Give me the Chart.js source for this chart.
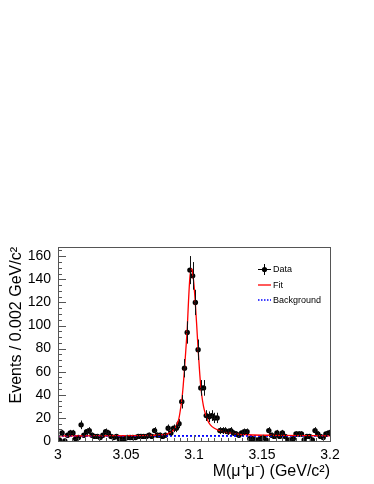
<!DOCTYPE html>
<html>
<head>
<meta charset="utf-8">
<script src="https://cdn.jsdelivr.net/npm/chart.js@4.4.1/dist/chart.umd.min.js"></script>
<style>
html,body{margin:0;padding:0;background:#fff;}
#wrap{width:374px;height:484px;position:relative;}
</style>
</head>
<body>
<div id="wrap"><canvas id="c" width="374" height="484"></canvas></div>
<script>
// ---- data ----
const binStart = 3.0;
const binWidth = 0.002;
const counts = [1,7,0,5,7,7,2,3,14,5,
                8,9,5,4,4,3,5,8,7,4,
                3,4,2,2,2,3,3,3,3,4,
                4,4,4,5,4,9,5,5,4,5,
                11,7,11,11,15,34,63,94,148,143,
                120,79,46,46,22,21,22,20,20,9,
                9,9,8,9,7,6,5,7,8,8,
                2,2,1,1,2,3,1,9,5,4,
                7,4,7,4,1,1,2,6,6,6,
                1,4,4,1,9,6,4,3,6,7];
const fitX = [3.000,3.060,3.075,3.080,3.083,3.086,3.088,3.089,3.090,3.091,3.092,3.093,3.094,3.095,3.096,3.097,3.098,3.099,3.100,3.101,3.102,3.103,3.104,3.105,3.106,3.107,3.108,3.110,3.112,3.115,3.120,3.130,3.140,3.160,3.200];
const fitY = [4.4,4.6,5.2,6.0,7.5,11,16,20,27,35,47,62,79,97,122,142,149,146,135,119,100,80,62,47,37,30,25,18,14,11,8.5,6.2,5.4,4.9,4.5];
const bkgX = [3.000,3.200];
const bkgY = [4.4,4.4];
const xTicks = [3.0,3.05,3.1,3.15,3.2];
const xTickLabels = ["3","3.05","3.1","3.15","3.2"];
const yTicks = [0,20,40,60,80,100,120,140,160];
const seriesNames = ["Data","Fit","Background"];

const dataPts = counts.map((n,i)=>({x: binStart + binWidth*(i+0.5), y: n}));
const fitPts = fitX.map((x,i)=>({x:x,y:fitY[i]}));
const bkgPts = bkgX.map((x,i)=>({x:x,y:bkgY[i]}));

const FONT = "'Liberation Sans', Arial, Helvetica, sans-serif";

const rootPlugin = {
  id:'rootStyle',
  afterDatasetsDraw(chart){
    const ctx = chart.ctx, xs = chart.scales.x, ys = chart.scales.y;
    ctx.save();
    ctx.strokeStyle = '#111'; ctx.lineWidth = 1;
    ctx.beginPath();
    counts.forEach((n,i)=>{
      const xc = binStart + binWidth*(i+0.5);
      const px = xs.getPixelForValue(xc);
      const e = Math.sqrt(n);
      const y1 = ys.getPixelForValue(Math.max(0,n-e)), y2 = ys.getPixelForValue(n+e);
      ctx.moveTo(Math.round(px)+0.5, y1); ctx.lineTo(Math.round(px)+0.5, y2);
      const py = Math.round(ys.getPixelForValue(n))+0.5;
      ctx.moveTo(xs.getPixelForValue(xc-binWidth/2), py); ctx.lineTo(xs.getPixelForValue(xc+binWidth/2), py);
    });
    ctx.stroke();
    ctx.restore();
  },
  afterDraw(chart){
    const ctx = chart.ctx, xs = chart.scales.x, ys = chart.scales.y, a = chart.chartArea;
    ctx.save();
    ctx.strokeStyle = '#555'; ctx.lineWidth = 1;
    ctx.strokeRect(Math.round(a.left)+0.5, Math.round(a.top)+0.5, Math.round(a.right-a.left), Math.round(a.bottom-a.top));
    ctx.beginPath();
    for(let v=0; v<=ys.max+1e-9; v+=5){
      const py = Math.round(ys.getPixelForValue(v))+0.5;
      const len = (v%20===0)?8:4;
      ctx.moveTo(a.left, py); ctx.lineTo(a.left+len, py);
    }
    for(let k=0; k<=40; k++){
      const v = 3.0 + k*0.005;
      const px = Math.round(xs.getPixelForValue(v))+0.5;
      const len = (k%10===0)?6:3;
      ctx.moveTo(px, a.bottom); ctx.lineTo(px, a.bottom-len);
    }
    ctx.stroke();
    // legend
    const lx = 258, tx = 273;
    const rows = [269, 285, 300];
    ctx.font = "9px " + FONT; ctx.fillStyle = '#000'; ctx.textBaseline='middle'; ctx.textAlign='left';
    ctx.strokeStyle='#000'; ctx.lineWidth=1;
    ctx.beginPath(); ctx.moveTo(lx, rows[0]+0.5); ctx.lineTo(lx+13, rows[0]+0.5);
    ctx.moveTo(lx+6.5, rows[0]-5); ctx.lineTo(lx+6.5, rows[0]+6); ctx.stroke();
    ctx.beginPath(); ctx.arc(lx+6.5, rows[0]+0.5, 2.6, 0, Math.PI*2); ctx.fill();
    ctx.fillText(seriesNames[0], tx, rows[0]+1);
    ctx.strokeStyle='#ff0000'; ctx.lineWidth=1.3;
    ctx.beginPath(); ctx.moveTo(lx, rows[1]); ctx.lineTo(lx+13, rows[1]); ctx.stroke();
    ctx.fillText(seriesNames[1], tx, rows[1]+1);
    ctx.strokeStyle='#0000ff'; ctx.lineWidth=1.6; ctx.setLineDash([1.5,1.5]);
    ctx.beginPath(); ctx.moveTo(lx, rows[2]); ctx.lineTo(lx+13, rows[2]); ctx.stroke();
    ctx.setLineDash([]);
    ctx.fillText(seriesNames[2], tx, rows[2]+1);
    ctx.restore();
  }
};

new Chart(document.getElementById('c'), {
  type:'scatter',
  data:{ datasets:[
    { label:seriesNames[0], data:dataPts, showLine:false, pointRadius:2.7, pointHoverRadius:2.7,
      pointBackgroundColor:'#000', pointBorderColor:'#000', pointBorderWidth:0, order:3 },
    { label:seriesNames[2], data:bkgPts, showLine:true, pointRadius:0, borderColor:'#0000ff',
      borderWidth:1.8, borderDash:[2,2], order:2 },
    { label:seriesNames[1], data:fitPts, showLine:true, pointRadius:0, borderColor:'#ff0000',
      borderWidth:1.3, cubicInterpolationMode:'monotone', order:1 }
  ]},
  options:{
    responsive:false, animation:false, devicePixelRatio:1,
    layout:{ padding:{ top:247, right:44, left:0, bottom:0 } },
    plugins:{ legend:{display:false}, tooltip:{enabled:false} },
    scales:{
      x:{ type:'linear', min:3.0, max:3.2,
        afterBuildTicks(s){ s.ticks = xTicks.map(v=>({value:v})); },
        afterFit(s){ s.height = 43; },
        grid:{ display:false, drawTicks:false }, border:{display:false},
        ticks:{ color:'#000', font:{family:FONT, size:14}, padding:6, maxRotation:0,
          callback(v){ const i = xTicks.findIndex(t=>Math.abs(t-v)<1e-9); return i>=0?xTickLabels[i]:''; } },
        title:{ display:true, text:'M(\u03bc\u207a\u03bc\u207b) (GeV/c\u00b2)', align:'end', color:'#000',
          font:{family:FONT, size:16}, padding:{top:0,bottom:3} }
      },
      y:{ type:'linear', min:0, max:168,
        afterBuildTicks(s){ s.ticks = yTicks.map(v=>({value:v})); },
        afterFit(s){ s.width = 58; },
        grid:{ display:false, drawTicks:false }, border:{display:false},
        ticks:{ color:'#000', font:{family:FONT, size:14}, padding:7 },
        title:{ display:true, text:'Events / 0.002 GeV/c\u00b2', align:'end', color:'#000',
          font:{family:FONT, size:16}, padding:{top:7,bottom:0} }
      }
    }
  },
  plugins:[rootPlugin]
});
</script>
</body>
</html>
